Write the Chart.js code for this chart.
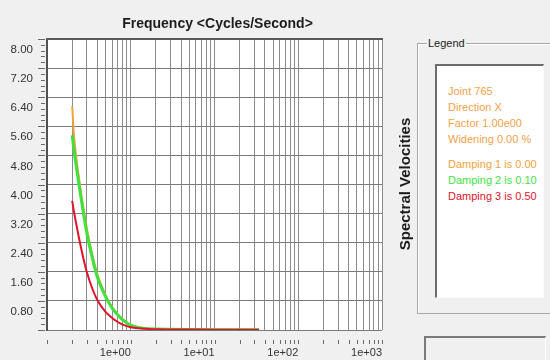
<!DOCTYPE html>
<html>
<head>
<meta charset="utf-8">
<script src="https://cdn.jsdelivr.net/npm/chart.js@4.4.1/dist/chart.umd.min.js"></script>
<style>
  html, body { margin: 0; padding: 0; background: #f0f0f0; }
  #wrap { position: relative; width: 550px; height: 360px; overflow: hidden;
          font-family: "Liberation Sans", Arial, sans-serif; }
  #c { position: absolute; left: 0; top: 0; }
  #title { position: absolute; left: 0; width: 435px; top: 15px; line-height: 16px;
           text-align: center; font-weight: bold; font-size: 14px; color: #1c1c1c; white-space: nowrap; }
  #ytitle { position: absolute; left: 404px; top: 184px; transform: translate(-50%, -50%) rotate(-90deg);
            font-weight: bold; font-size: 15px; color: #1c1c1c; white-space: nowrap; }
  #grp { position: absolute; left: 417px; top: 43px; width: 160px; height: 269px;
         border: 1px solid #a8a8a8; box-shadow: inset 1px 1px 0 #ffffff; }
  #grpLabel { position: absolute; left: 427px; top: 36px; line-height: 14px; padding: 0 1px;
              font-size: 11px; color: #1c1c1c; background: #f0f0f0; }
  #panel { position: absolute; left: 435px; top: 64px; width: 106px; height: 231px; background: #ffffff;
           border-top: 2px solid #6c6c6c; border-left: 2px solid #6c6c6c;
           border-right: 1px solid #fbfbfb; border-bottom: 1px solid #fbfbfb; }
  #panel div { position: absolute; left: 11px; font-size: 11px; line-height: 16px; white-space: nowrap; }
  #box { position: absolute; left: 424px; top: 336px; width: 119px; height: 40px;
         border-top: 2px solid #7a7a7a; border-left: 2px solid #7a7a7a; border-right: 1px solid #ffffff; }
</style>
</head>
<body>
<div id="wrap">
  <canvas id="c" width="550" height="360"></canvas>
  <div id="title">Frequency &lt;Cycles/Second&gt;</div>
  <div id="ytitle">Spectral Velocities</div>
  <div id="grp"></div>
  <div id="grpLabel">Legend</div>
  <div id="panel"></div>
  <div id="box"></div>
</div>
<script>
// Response spectrum: frequency (Hz) against spectral velocity for three damping ratios
const frequencies = [0.2, 0.21, 0.225, 0.25, 0.275, 0.3, 0.35, 0.4, 0.5, 0.6, 0.7, 0.8, 1.0, 1.25, 1.6, 2, 3, 5, 10, 20, 34];
const damping1Values = [6.15, 5.35, 4.70, 3.92, 3.30, 2.78, 2.05, 1.53, 0.96, 0.63, 0.43, 0.30, 0.14, 0.07, 0.04, 0.03, 0.02, 0.015, 0.01, 0.01, 0.01];
const damping2Values = [5.35, 4.95, 4.45, 3.75, 3.15, 2.65, 1.95, 1.45, 0.92, 0.60, 0.41, 0.28, 0.13, 0.065, 0.035, 0.025, 0.02, 0.015, 0.01, 0.01, 0.01];
const damping3Values = [3.55, 3.25, 2.88, 2.35, 1.92, 1.58, 1.12, 0.82, 0.50, 0.33, 0.22, 0.15, 0.075, 0.045, 0.03, 0.02, 0.015, 0.012, 0.01, 0.01, 0.01];

const dampingRatios = [0.00, 0.10, 0.50];
const seriesColors = ['#f2a23a', '#3fe23f', '#e2132c'];
const legendHeader = ['Joint 765', 'Direction X', 'Factor 1.00e00', 'Widening 0.00 %'];

const xDecades = [0.1, 1, 10, 100, 1000];
const xDecadeLabels = ['', '1e+00', '1e+01', '1e+02', '1e+03'];
const yMax = 8;
const yStep = 0.8;

// legend panel text
const panel = document.getElementById('panel');
legendHeader.forEach((t, i) => {
  const d = document.createElement('div');
  d.textContent = t;
  d.style.top = (17 + i * 16) + 'px';
  d.style.color = '#f0a24a';
  panel.appendChild(d);
});
dampingRatios.forEach((r, i) => {
  const d = document.createElement('div');
  d.textContent = 'Damping ' + (i + 1) + ' is ' + r.toFixed(2);
  d.style.top = (90 + i * 16) + 'px';
  d.style.color = seriesColors[i];
  panel.appendChild(d);
});

// log tick values: 1..9 times each decade, plus the last decade
const xTickValues = [];
for (let d = 0; d < xDecades.length - 1; d++) {
  for (let m = 1; m <= 9; m++) xTickValues.push(xDecades[d] * m);
}
xTickValues.push(xDecades[xDecades.length - 1]);

function decadeLabel(v) {
  for (let i = 0; i < xDecades.length; i++) {
    if (Math.abs(v / xDecades[i] - 1) < 1e-6) return xDecadeLabels[i];
  }
  return '';
}

const framePlugin = {
  id: 'frame',
  beforeDraw(chart) {
    const { ctx, chartArea: a } = chart;
    ctx.save();
    ctx.fillStyle = '#ffffff';
    ctx.fillRect(a.left, a.top, a.right - a.left, a.bottom - a.top);
    ctx.restore();
  },
  afterDraw(chart) {
    const { ctx, chartArea: a, scales } = chart;
    ctx.save();
    // heavy top edge of the plot
    ctx.strokeStyle = '#5a5a5a';
    ctx.lineWidth = 2;
    ctx.beginPath();
    ctx.moveTo(a.left - 1, a.top);
    ctx.lineTo(a.right + 1, a.top);
    ctx.stroke();
    // ruler marks left of the value axis
    ctx.strokeStyle = '#6a6a6a';
    ctx.lineWidth = 1;
    const sub = 5;
    for (let i = 0; i <= Math.round(yMax / yStep) * sub; i++) {
      const y = Math.round(scales.y.getPixelForValue(i * yStep / sub)) + 0.5;
      const major = i % sub === 0;
      ctx.beginPath();
      ctx.moveTo(major ? 38 : 41, y);
      ctx.lineTo(45, y);
      ctx.stroke();
    }
    // small marks under the frequency axis
    scales.x.ticks.forEach(t => {
      const x = Math.round(scales.x.getPixelForValue(t.value)) + 0.5;
      ctx.beginPath();
      ctx.moveTo(x, a.bottom + 10);
      ctx.lineTo(x, a.bottom + 14);
      ctx.stroke();
    });
    ctx.restore();
  }
};

Chart.defaults.font.family = '"Liberation Sans", Arial, sans-serif';

const makeSet = (values, i, width, order) => ({
  label: 'Damping ' + (i + 1),
  data: frequencies.map((f, k) => ({ x: f, y: values[k] })),
  borderColor: seriesColors[i],
  backgroundColor: seriesColors[i],
  borderWidth: width,
  pointRadius: 0,
  fill: false,
  cubicInterpolationMode: 'monotone',
  order: order
});

new Chart(document.getElementById('c'), {
  type: 'line',
  data: {
    datasets: [
      makeSet(damping1Values, 0, 2, 3),
      makeSet(damping2Values, 1, 3, 2),
      makeSet(damping3Values, 2, 2, 1)
    ]
  },
  options: {
    responsive: false,
    animation: false,
    devicePixelRatio: 1,
    layout: { padding: { left: 0, top: 39, right: 168, bottom: 0 } },
    plugins: { legend: { display: false }, tooltip: { enabled: false }, title: { display: false } },
    scales: {
      x: {
        type: 'logarithmic',
        min: xDecades[0],
        max: xDecades[xDecades.length - 1],
        afterBuildTicks(scale) { scale.ticks = xTickValues.map(v => ({ value: v })); },
        afterFit(scale) { scale.height = 30; },
        grid: { color: '#8c8c8c', lineWidth: 1, drawTicks: false },
        border: { display: false },
        ticks: {
          autoSkip: false, maxRotation: 0, minRotation: 0, align: 'end', padding: 16,
          color: '#333333', font: { size: 11 },
          callback: (v) => decadeLabel(v)
        }
      },
      y: {
        type: 'linear',
        min: 0,
        max: yMax,
        afterFit(scale) { scale.width = 47; },
        grid: { color: '#7a7a7a', lineWidth: 1, drawTicks: false },
        border: { display: true, color: '#505050', width: 2 },
        ticks: {
          stepSize: yStep, padding: 14, labelOffset: 11,
          color: '#333333', font: { size: 11.5 },
          callback: (v) => (v === 0 ? '' : Number(v).toFixed(2))
        }
      }
    }
  },
  plugins: [framePlugin]
});
</script>
</body>
</html>
